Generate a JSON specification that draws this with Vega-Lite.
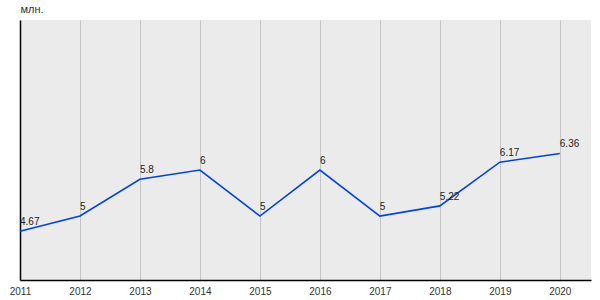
{
  "$schema": "https://vega.github.io/schema/vega-lite/v6.json",
  "width": 571,
  "height": 260,
  "autosize": {"type": "none"},
  "padding": {"left": 20, "top": 20, "right": 9, "bottom": 20},
  "background": "white",
  "config": {
    "view": {"fill": "#ebebeb", "stroke": null},
    "font": "Liberation Sans"
  },
  "data": {
    "values": [
      {"year": 2011, "value": 4.67, "label": "4.67"},
      {"year": 2012, "value": 5, "label": "5"},
      {"year": 2013, "value": 5.8, "label": "5.8"},
      {"year": 2014, "value": 6, "label": "6"},
      {"year": 2015, "value": 5, "label": "5"},
      {"year": 2016, "value": 6, "label": "6"},
      {"year": 2017, "value": 5, "label": "5"},
      {"year": 2018, "value": 5.22, "label": "5.22"},
      {"year": 2019, "value": 6.17, "label": "6.17"},
      {"year": 2020, "value": 6.36, "label": "6.36"}
    ]
  },
  "encoding": {
    "x": {
      "field": "year",
      "type": "quantitative",
      "scale": {"domain": [2011, 2020.52], "nice": false, "zero": false},
      "axis": {
        "title": null,
        "values": [2011, 2012, 2013, 2014, 2015, 2016, 2017, 2018, 2019, 2020],
        "format": "d",
        "grid": true,
        "gridColor": "#c4c4c4",
        "gridWidth": 1,
        "domainColor": "#000000",
        "domainWidth": 1.5,
        "ticks": false,
        "labelFontSize": 10,
        "labelColor": "#333333",
        "labelPadding": 6,
        "labelFlush": false
      }
    },
    "y": {
      "field": "value",
      "type": "quantitative",
      "scale": {"domain": [3.61, 9.26], "nice": false, "zero": false},
      "axis": {
        "title": "млн.",
        "titleAngle": 0,
        "titleX": 0,
        "titleY": -6,
        "titleAlign": "left",
        "titleBaseline": "bottom",
        "titleFontSize": 11,
        "titleFontWeight": "normal",
        "titleColor": "#333333",
        "labels": false,
        "ticks": false,
        "grid": false,
        "domainColor": "#000000",
        "domainWidth": 1.5
      }
    }
  },
  "layer": [
    {
      "mark": {"type": "line", "color": "#0044dd", "strokeWidth": 1.6}
    },
    {
      "mark": {"type": "text", "align": "left", "baseline": "bottom", "dx": 0, "dy": -4, "fontSize": 10, "color": "#222222"},
      "encoding": {"text": {"field": "label"}}
    }
  ]
}
